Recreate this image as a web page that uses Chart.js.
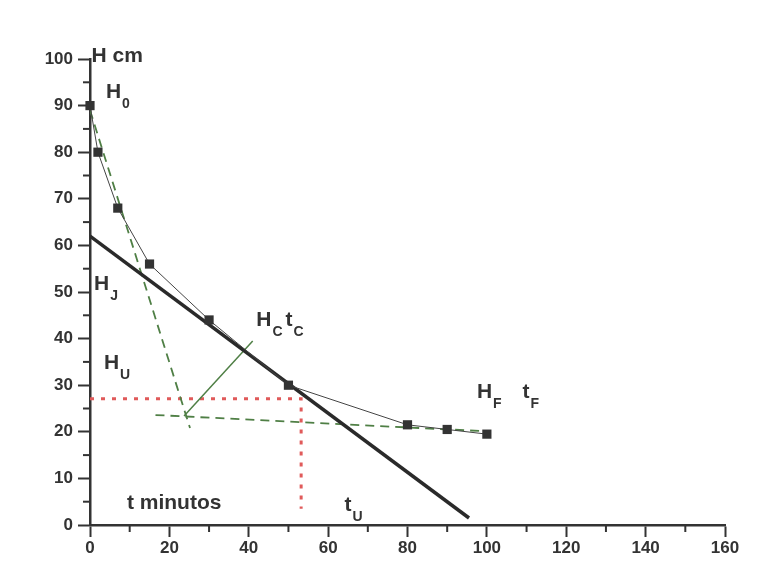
<!DOCTYPE html>
<html>
<head>
<meta charset="utf-8">
<script src="https://cdn.jsdelivr.net/npm/chart.js@4.4.1/dist/chart.umd.min.js"></script>
<style>
  html, body { margin: 0; padding: 0; background: #ffffff; }
  canvas { display: block; }
</style>
</head>
<body>
<canvas id="sedimentacion" width="781" height="569"></canvas>
<script>
// datos medidos: tiempo (min) y altura de la interfase (cm)
const tiempos = [0, 2, 7, 15, 30, 50, 80, 90, 100];
const alturas = [90, 80, 68, 56, 44, 30, 21.5, 20.5, 19.5];

// tangente en el punto critico (linea gruesa)
const tangenteT = [0, 95.5];
const tangenteH = [62, 1.5];

// tangentes verdes de la construccion
const inicialT = [0, 25.2];
const inicialH = [89, 20.8];
const finalT = [16.5, 100];
const finalH = [23.6, 20.1];

// bisectriz hasta Hc tc
const bisectrizT = [23.7, 41];
const bisectrizH = [23.4, 39.5];

// lectura de Hu y tu (punteado rojo)
const lecturaT = [0, 53.2, 53.2];
const lecturaH = [27.1, 27.1, 3.5];

// marcas de los ejes
const xMayores = [0, 20, 40, 60, 80, 100, 120, 140, 160];
const yMayores = [0, 10, 20, 30, 40, 50, 60, 70, 80, 90, 100];

const ink = "#333333";
const verde = "#4f7f45";
const rojo = "#e05a5a";
const fuente = "'Liberation Sans', Arial, sans-serif";

const puntos = (xs, ys) => xs.map((x, i) => ({ x: x, y: ys[i] }));

// textos en coordenadas de datos: [texto, subindice]
const etiquetas = [
    { partes: [["H cm", ""]], x: 0.4, y: 99.4 },
    { partes: [["H", "0"]], x: 4.0, y: 91.6 },
    { partes: [["H", "J"]], x: 1.0, y: 50.5 },
    { partes: [["H", "U"]], x: 3.5, y: 33.4 },
    { partes: [["H", "C"], ["t", "C"]], x: 41.9, y: 42.6 },
    { partes: [["H", "F"]], x: 97.5, y: 27.2 },
    { partes: [["t", "F"]], x: 109, y: 27.2 },
    { partes: [["t minutos", ""]], x: 9.3, y: 3.4 },
    { partes: [["t", "U"]], x: 64.1, y: 3.0 },
];

const anotaciones = {
    id: "anotaciones",
    afterDraw(chart) {
        const ctx = chart.ctx;
        const xs = chart.scales.x;
        const ys = chart.scales.y;
        const area = chart.chartArea;
        ctx.save();
        // marcas menores
        ctx.strokeStyle = ink;
        ctx.lineWidth = 2;
        for (let v = 10; v < 160; v += 20) {
            const px = xs.getPixelForValue(v);
            ctx.beginPath();
            ctx.moveTo(px, area.bottom);
            ctx.lineTo(px, area.bottom + 7);
            ctx.stroke();
        }
        for (let v = 5; v < 100; v += 10) {
            const py = ys.getPixelForValue(v);
            ctx.beginPath();
            ctx.moveTo(area.left, py);
            ctx.lineTo(area.left - 7, py);
            ctx.stroke();
        }
        // textos
        ctx.fillStyle = ink;
        ctx.textBaseline = "alphabetic";
        ctx.textAlign = "left";
        etiquetas.forEach((e) => {
            let px = xs.getPixelForValue(e.x);
            const py = ys.getPixelForValue(e.y);
            e.partes.forEach(([txt, sub]) => {
                ctx.font = "bold 21px " + fuente;
                ctx.fillText(txt, px, py);
                px += ctx.measureText(txt).width + 1;
                if (sub) {
                    ctx.font = "bold 14px " + fuente;
                    ctx.fillText(sub, px, py + 10);
                    px += ctx.measureText(sub).width + 3;
                }
            });
        });
        ctx.restore();
    },
};

const ejeComun = {
    type: "linear",
    border: { display: true, color: ink, width: 2.5 },
    grid: {
        drawOnChartArea: false,
        drawTicks: true,
        tickLength: 12,
        tickWidth: 2,
        tickColor: ink,
    },
    ticks: {
        color: ink,
        font: { family: fuente, size: 17, weight: "bold" },
        autoSkip: false,
        maxRotation: 0,
    },
};

new Chart(document.getElementById("sedimentacion").getContext("2d"), {
    type: "scatter",
    data: {
        datasets: [
            {
                data: puntos(tiempos, alturas),
                showLine: true,
                clip: false,
                borderColor: "#444444",
                borderWidth: 1,
                pointStyle: "rect",
                pointRadius: 6.5,
                pointBackgroundColor: ink,
                pointBorderColor: ink,
                pointBorderWidth: 0,
            },
            {
                data: puntos(tangenteT, tangenteH),
                showLine: true,
                borderColor: "#2a2a2a",
                borderWidth: 3.5,
                pointRadius: 0,
            },
            {
                data: puntos(inicialT, inicialH),
                showLine: true,
                borderColor: verde,
                borderWidth: 1.8,
                borderDash: [9, 6],
                pointRadius: 0,
            },
            {
                data: puntos(finalT, finalH),
                showLine: true,
                borderColor: verde,
                borderWidth: 1.8,
                borderDash: [9, 6],
                pointRadius: 0,
            },
            {
                data: puntos(bisectrizT, bisectrizH),
                showLine: true,
                borderColor: verde,
                borderWidth: 1.5,
                pointRadius: 0,
            },
            {
                data: puntos(lecturaT, lecturaH),
                showLine: true,
                borderColor: rojo,
                borderWidth: 3,
                borderDash: [4, 7],
                pointRadius: 0,
            },
        ],
    },
    options: {
        responsive: false,
        animation: false,
        layout: { padding: { left: 30, top: 59, right: 56, bottom: 0 } },
        plugins: {
            legend: { display: false },
            tooltip: { enabled: false },
        },
        scales: {
            x: {
                ...ejeComun,
                position: "bottom",
                min: 0,
                max: 160,
                afterFit: (s) => { s.height = 44; },
                afterBuildTicks: (s) => { s.ticks = xMayores.map((v) => ({ value: v })); },
                ticks: { ...ejeComun.ticks, padding: 1 },
            },
            y: {
                ...ejeComun,
                position: "left",
                min: 0,
                max: 100,
                afterFit: (s) => { s.width = 60; },
                afterBuildTicks: (s) => { s.ticks = yMayores.map((v) => ({ value: v })); },
                ticks: { ...ejeComun.ticks, padding: 5 },
            },
        },
    },
    plugins: [anotaciones],
});
</script>
</body>
</html>
